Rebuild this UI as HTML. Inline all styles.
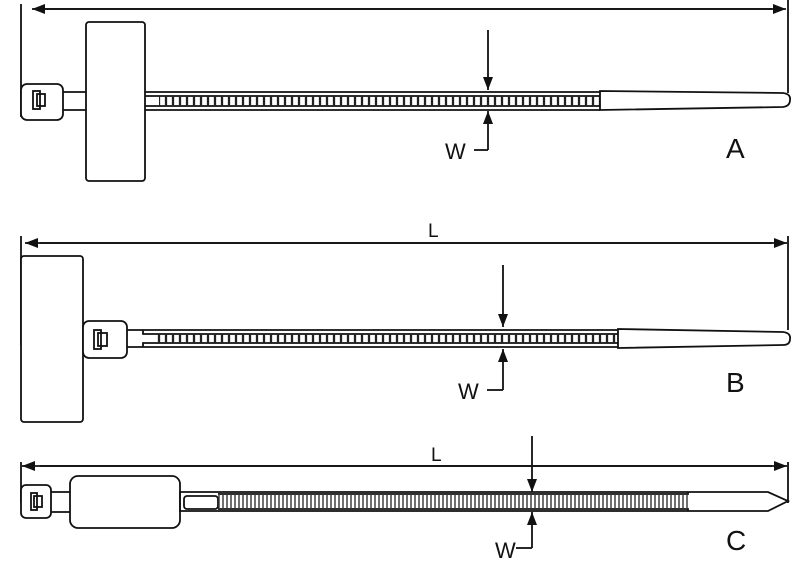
<!DOCTYPE html>
<html><head><style>body{margin:0;background:#fff}svg{display:block}</style></head><body>
<svg width="800" height="564" viewBox="0 0 800 564" xmlns="http://www.w3.org/2000/svg" font-family="Liberation Sans, sans-serif">
<defs>
<pattern id="rA" x="159" y="0" width="7" height="564" patternUnits="userSpaceOnUse"><rect x="0.5" y="0" width="6" height="564" fill="none" stroke="#222" stroke-width="1.3"/></pattern>
<pattern id="rC" x="218" y="0" width="4" height="564" patternUnits="userSpaceOnUse"><line x1="1" y1="0" x2="1" y2="564" stroke="#333" stroke-width="1.4"/></pattern>
<marker id="ah" markerWidth="13" markerHeight="10" refX="13" refY="5" orient="auto" markerUnits="userSpaceOnUse"><path d="M0,0 L13,5 L0,10 z" fill="#111"/></marker>
</defs>
<g fill="none" stroke="#111" stroke-width="1.8">
<!-- A -->
<line x1="21" y1="4" x2="21" y2="117"/>
<line x1="788" y1="0" x2="788" y2="93"/>
<line x1="772" y1="9" x2="32" y2="9" marker-end="url(#ah)"/>
<line x1="40" y1="9" x2="786" y2="9" marker-end="url(#ah)"/>
<rect x="21" y="84" width="42" height="36" rx="6" fill="#fff"/>
<rect x="33" y="91" width="7" height="18"/><rect x="37" y="94" width="8" height="12"/>
<path d="M63,92 H86 M63,110 H86"/>
<rect x="86" y="22" width="59" height="159" rx="3" fill="#fff"/>
<path d="M145,92 H600 M145,110 H600 M145,96 H600 M145,106 H600"/>
<rect x="159" y="96" width="441" height="10" fill="url(#rA)" stroke="none"/>
<path d="M600,91 L783,93 Q791,94 790,100 Q790,106 783,107 L600,110 Z"/>
<line x1="488" y1="30" x2="488" y2="90" marker-end="url(#ah)"/>
<line x1="488" y1="150" x2="488" y2="111" marker-end="url(#ah)"/>
<line x1="474" y1="150" x2="488" y2="150"/>
<!-- B -->
<line x1="21" y1="236" x2="21" y2="345"/>
<line x1="788" y1="236" x2="788" y2="330"/>
<line x1="772" y1="243" x2="25" y2="243" marker-end="url(#ah)"/>
<line x1="40" y1="243" x2="787" y2="243" marker-end="url(#ah)"/>
<rect x="21" y="256" width="62" height="166" rx="3" fill="#fff"/>
<rect x="83" y="321" width="44" height="37" rx="6" fill="#fff"/>
<rect x="94" y="330" width="7" height="19"/><rect x="98" y="333" width="9" height="13"/>
<path d="M127,330 H618 M127,347 H618 M143,330 V334 H618 M143,347 V343 H618"/>
<rect x="157" y="334" width="461" height="9" fill="url(#rA)" stroke="none"/>
<path d="M618,329 L783,332 Q791,333 790,339 Q790,345 783,345 L618,348 Z"/>
<line x1="503" y1="265" x2="503" y2="327" marker-end="url(#ah)"/>
<line x1="503" y1="390" x2="503" y2="349" marker-end="url(#ah)"/>
<line x1="487" y1="390" x2="503" y2="390"/>
<!-- C -->
<line x1="21" y1="462" x2="21" y2="503"/>
<line x1="788" y1="462" x2="788" y2="503"/>
<line x1="772" y1="466" x2="22" y2="466" marker-end="url(#ah)"/>
<line x1="40" y1="466" x2="787" y2="466" marker-end="url(#ah)"/>
<rect x="21" y="485" width="30" height="33" rx="5" fill="#fff"/>
<rect x="31" y="493" width="6" height="17"/><rect x="34" y="496" width="8" height="11"/>
<path d="M51,492 H70 M51,512 H70"/>
<rect x="70" y="476" width="110" height="52" rx="8" fill="#fff"/>
<path d="M180,492 H768 L788,501 L768,511 H180 Z"/>
<rect x="184" y="496" width="34" height="13" rx="3"/>
<path d="M218,494 H688 V492 M218,509 H688 V511"/>
<rect x="218" y="494" width="470" height="15" fill="url(#rC)" stroke="none"/>
<line x1="532" y1="436" x2="532" y2="492" marker-end="url(#ah)"/>
<line x1="532" y1="548" x2="532" y2="512" marker-end="url(#ah)"/>
<line x1="516" y1="548" x2="532" y2="548"/>
</g>
<g fill="#111" font-size="22">
<text x="445" y="159">W</text>
<text x="726" y="158" font-size="28">A</text>
<text x="428" y="237" font-size="19">L</text>
<text x="458" y="399">W</text>
<text x="726" y="392" font-size="28">B</text>
<text x="431" y="461" font-size="19">L</text>
<text x="495" y="558">W</text>
<text x="726" y="550" font-size="28">C</text>
</g>
</svg>
</body></html>
